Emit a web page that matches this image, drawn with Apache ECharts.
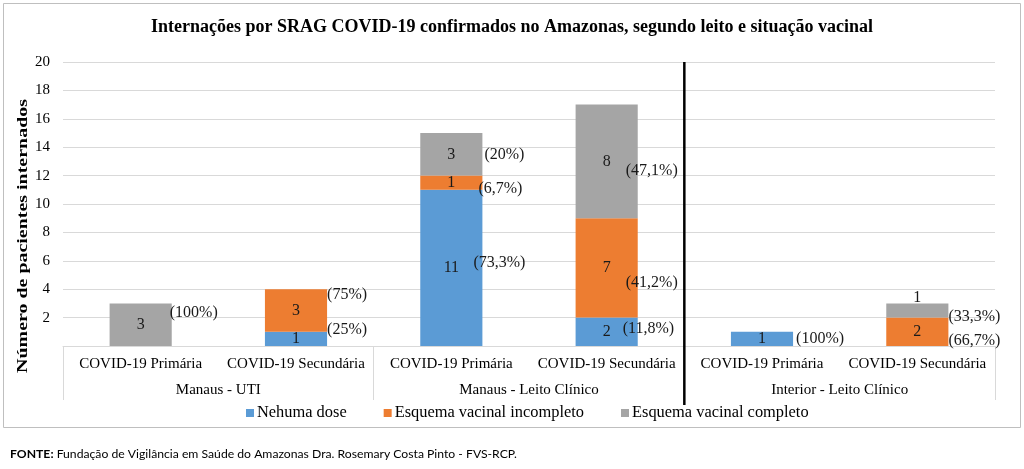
<!DOCTYPE html>
<html><head><meta charset="utf-8">
<script src="https://cdn.jsdelivr.net/npm/echarts@6/dist/echarts.min.js"></script>
<style>html,body{margin:0;padding:0;background:#fff}#c{width:1024px;height:469px}</style>
</head><body><div id="c"></div>
<script>
const categories = ['COVID-19 Primária','COVID-19 Secundária','COVID-19 Primária','COVID-19 Secundária','COVID-19 Primária','COVID-19 Secundária'];
const groups = ['Manaus - UTI','Manaus - Leito Clínico','Interior - Leito Clínico'];
const seriesNames = ['Nehuma dose','Esquema vacinal incompleto','Esquema vacinal completo'];
const nenhuma = [0,1,11,2,1,0];
const incompleto = [0,3,1,7,0,2];
const completo = [3,0,3,8,0,1];
const pctNenhuma = ['','(25%)','(73,3%)','(11,8%)','(100%)',''];
const pctIncompleto = ['','(75%)','(6,7%)','(41,2%)','','(66,7%)'];
const pctCompleto = ['(100%)','','(20%)','(47,1%)','','(33,3%)'];
const yTickLabels = ['','2','4','6','8','10','12','14','16','18','20'];

// label nudges (layout only): [dx, dy] per layer per category
const nudgeNenhuma = [[0,0],[0,-9],[-9,-5],[-15,-3],[3,0],[0,0]];
const nudgeIncompleto = [[0,0],[0,-16],[-4,6],[-12,15],[0,0],[0,9]];
const nudgeCompleto = [[-2,-12],[0,0],[2,0],[-12,9],[0,0],[0,6]];

const FONT = '"Liberation Serif", "Times New Roman", serif';
const colors = ['#5b9bd5','#ed7d31','#a5a5a5'];
const layers = [nenhuma, incompleto, completo];
const pcts = [pctNenhuma, pctIncompleto, pctCompleto];
const nudges = [nudgeNenhuma, nudgeIncompleto, nudgeCompleto];

// percent label rows
const pctRows = [], pctInfo = [];
layers.forEach((arr, li) => {
  arr.forEach((v, ci) => {
    if (!v) return;
    let base = 0;
    for (let k = 0; k < li; k++) base += layers[k][ci];
    pctRows.push([ci, base, v]);
    pctInfo.push({text: pcts[li][ci], nudge: nudges[li][ci]});
  });
});

const chart = echarts.init(document.getElementById('c'));
const barSeries = layers.map((arr, li) => ({
  name: seriesNames[li],
  type: 'bar',
  stack: 'total',
  barWidth: '40%',
  xAxisIndex: 0,
  itemStyle: {color: colors[li]},
  label: {
    show: true, position: 'inside', color: '#1a1a1a',
    fontFamily: FONT, fontSize: 16,
    formatter: p => p.value ? String(p.value) : ''
  },
  emphasis: {disabled: true},
  data: arr.map((v, ci) => (li === 2 && ci === 5) ? {value: v, label: {position: 'top', distance: -2}} : v)
}));

const option = {
  animation: false,
  title: {
    text: 'Internações por SRAG COVID-19 confirmados no Amazonas, segundo leito e situação vacinal',
    left: 'center', top: 13,
    textStyle: {fontFamily: FONT, fontSize: 18, fontWeight: 'bold', color: '#000'}
  },
  legend: {
    left: 241, top: 400,
    itemWidth: 8, itemHeight: 8, itemGap: 37, icon: 'rect',
    data: seriesNames,
    textStyle: {fontFamily: FONT, fontSize: 16.4, color: '#000', padding: [0,0,0,-2]}
  },
  grid: {left: 63, right: 29, top: 62, bottom: 123},
  xAxis: [{
    type: 'category', data: categories, position: 'bottom',
    axisLine: {show: true, lineStyle: {color: '#d9d9d9'}},
    axisTick: {show: false},
    axisLabel: {fontFamily: FONT, fontSize: 15, color: '#000', margin: 11, interval: 0}
  }, {
    type: 'category', data: groups, position: 'bottom', offset: 54,
    axisLine: {show: false},
    axisTick: {show: true, inside: true, length: 54, lineStyle: {color: '#d9d9d9'}},
    axisLabel: {inside: true, fontFamily: FONT, fontSize: 15, color: '#000', margin: 2, interval: 0}
  }],
  yAxis: {
    type: 'value', min: 0, max: 20, interval: 2,
    axisLine: {show: false}, axisTick: {show: false},
    axisLabel: {fontFamily: FONT, fontSize: 15, color: '#000', margin: 13,
      formatter: v => yTickLabels[Math.round(v / 2)] || ''},
    splitLine: {lineStyle: {color: '#d9d9d9'}}
  },
  series: barSeries.concat([{
    type: 'custom', coordinateSystem: 'cartesian2d', xAxisIndex: 0, yAxisIndex: 0,
    silent: true, z: 10,
    encode: {x: 0, y: [1, 2]},
    data: pctRows,
    renderItem: (params, api) => {
      const ci = api.value(0), base = api.value(1), v = api.value(2);
      const p0 = api.coord([ci, base]);
      const p1 = api.coord([ci, base + v]);
      const band = api.size([1, 0])[0];
      const info = pctInfo[params.dataIndex];
      return {
        type: 'text',
        x: p0[0] + band * 0.2 + info.nudge[0],
        y: (p0[1] + p1[1]) / 2 + info.nudge[1],
        style: {text: info.text, fill: '#1a1a1a', font: '16px ' + FONT,
                textAlign: 'left', textVerticalAlign: 'middle'}
      };
    }
  }])
};
chart.setOption(option);

// frame, divider, axis title and footer
const xa = chart.convertToPixel({xAxisIndex: 0}, 3);
const xb = chart.convertToPixel({xAxisIndex: 0}, 4);
const yTop = chart.convertToPixel({yAxisIndex: 0}, 20);
const yZero = chart.convertToPixel({yAxisIndex: 0}, 0);
const xd = (xa + xb) / 2;
chart.setOption({
  graphic: [{
    type: 'rect', shape: {x: 3.5, y: 3.5, width: 1017, height: 424},
    style: {fill: 'none', stroke: '#bfbfbf', lineWidth: 1}, z: -1, silent: true
  }, {
    type: 'line', shape: {x1: xd, y1: yTop, x2: xd, y2: yZero + 59},
    style: {stroke: '#000', lineWidth: 2.5}, z: 100, silent: true
  }, {
    type: 'text', x: 23, y: 236, rotation: Math.PI / 2, scaleX: 1.33, silent: true,
    style: {text: 'Número de pacientes internados', font: 'bold 15px ' + FONT, fill: '#000',
            textAlign: 'center', textVerticalAlign: 'middle'}
  }, {
    type: 'text', left: 10, top: 448,
    style: {
      text: '{b|FONTE:} Fundação de Vigilância em Saúde do Amazonas Dra. Rosemary Costa Pinto - FVS-RCP.',
      rich: {b: {fontWeight: 'bold', fontFamily: 'Lato, sans-serif', fontSize: 12.2, fill: '#000'}},
      font: '12.2px Lato, sans-serif', fill: '#000'
    }
  }]
});
</script></body></html>
